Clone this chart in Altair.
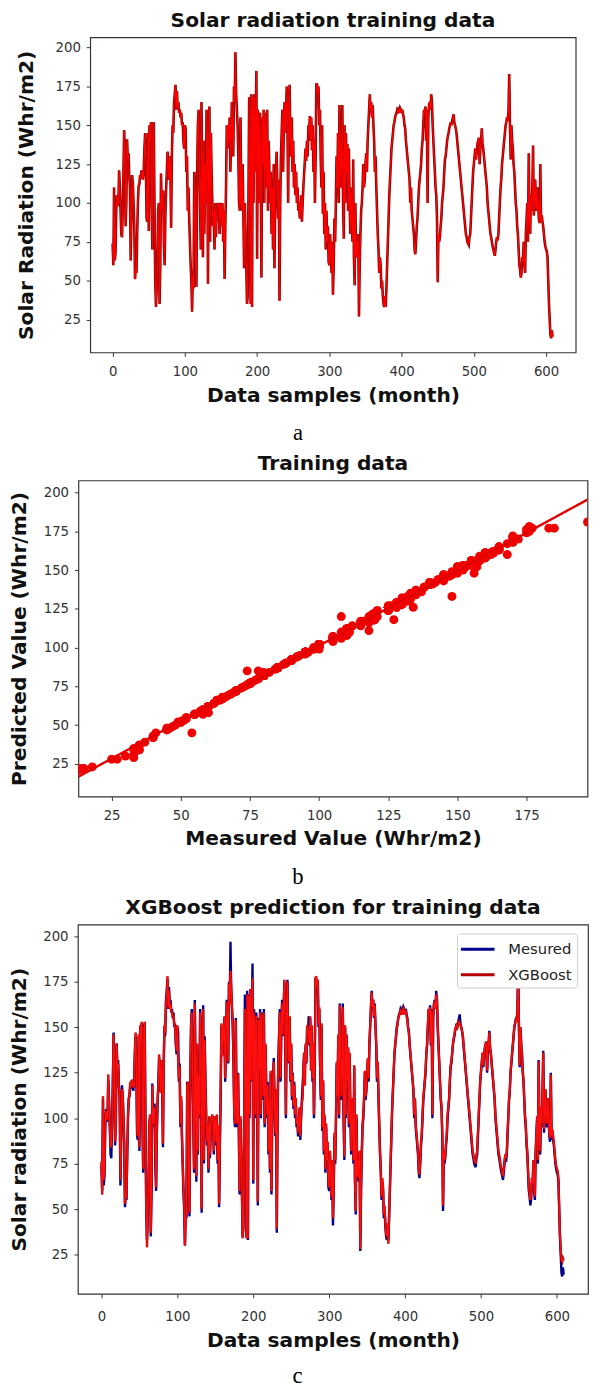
import altair as alt
import pandas as pd

# ---------------- data ----------------
measured = [
    74, 60, 110, 63, 68, 95, 105, 98, 100, 121,
    110, 95, 80, 78, 95, 120, 147, 130, 85, 100,
    141, 128, 132, 118, 110, 63, 90, 118, 112, 100,
    85, 51, 58, 55, 80, 100, 111, 112, 118, 116,
    121, 119, 115, 120, 135, 145, 128, 90, 88, 145,
    82, 150, 140, 152, 100, 70, 150, 152, 95, 50,
    33, 45, 60, 95, 100, 35, 60, 119, 95, 105,
    108, 74, 60, 92, 108, 120, 133, 125, 115, 130,
    120, 84, 130, 150, 145, 165, 170, 176, 160, 172,
    162, 165, 158, 160, 155, 158, 150, 152, 140, 135,
    150, 148, 120, 130, 95, 110, 90, 75, 60, 50,
    30, 54, 45, 120, 108, 60, 46, 120, 150, 160,
    130, 100, 70, 165, 120, 65, 140, 80, 125, 100,
    160, 140, 48, 130, 162, 75, 145, 120, 100, 85,
    95, 70, 100, 78, 95, 98, 100, 96, 80, 100,
    98, 85, 100, 75, 95, 51, 85, 110, 150, 135,
    150, 140, 155, 120, 140, 165, 150, 130, 175, 165,
    197, 170, 160, 150, 130, 100, 95, 155, 100, 95,
    125, 92, 58, 100, 80, 60, 35, 40, 100, 168,
    125, 35, 170, 33, 168, 100, 170, 120, 150, 185,
    64, 160, 150, 100, 158, 120, 52, 155, 125, 160,
    100, 158, 130, 110, 160, 95, 140, 120, 100, 120,
    80, 110, 70, 125, 58, 100, 120, 133, 110, 90,
    115, 37, 100, 130, 145, 160, 120, 150, 165, 145,
    160, 175, 150, 100, 160, 176, 140, 130, 155, 120,
    140, 110, 125, 105, 120, 100, 110, 95, 100, 90,
    95, 105, 88, 100, 110, 118, 126, 135, 127, 140,
    130, 150, 145, 156, 140, 155, 134, 150, 120, 140,
    100, 130, 177, 176, 170, 175, 150, 160, 130, 110,
    150, 93, 120, 80, 100, 70, 95, 75, 85, 62,
    60, 80, 70, 55, 75, 41, 60, 90, 75, 100,
    130, 110, 145, 100, 163, 140, 110, 125, 163, 100,
    77, 150, 100, 145, 120, 138, 95, 135, 100, 80,
    110, 90, 75, 128, 65, 47, 100, 66, 75, 65,
    80, 27, 60, 80, 95, 100, 110, 125, 110, 115,
    125, 132, 120, 140, 150, 160, 170, 160, 165, 155,
    163, 150, 140, 120, 130, 110, 95, 80, 70, 55,
    65, 60, 45, 50, 40, 35, 33, 40, 33, 45,
    60, 75, 90, 105, 115, 125, 135, 140, 145, 150,
    152, 155, 157, 158, 160, 159, 160, 158, 161, 160,
    158, 160, 157, 155, 150, 148, 140, 135, 130, 125,
    120, 115, 100, 110, 95, 90, 85, 80, 70, 67,
    75, 85, 90, 100, 110, 115, 120, 125, 135, 140,
    150, 160, 158, 162, 140, 160, 100, 155, 163, 165,
    160, 170, 165, 150, 140, 130, 120, 110, 105, 90,
    49, 80, 75, 78, 85, 90, 100, 105, 110, 120,
    128, 130, 135, 140, 143, 145, 148, 150, 152, 150,
    153, 155, 157, 152, 150, 148, 145, 140, 135, 130,
    125, 120, 115, 110, 105, 100, 95, 90, 85, 80,
    78, 75, 74, 73, 78, 80, 90, 100, 110, 120,
    125, 130, 135, 128, 133, 138, 140, 142, 125, 135,
    140, 148, 138, 135, 130, 125, 120, 115, 110, 100,
    95, 90, 85, 80, 78, 75, 72, 70, 68, 66,
    70, 75, 78, 76, 80, 90, 100, 110, 115, 125,
    130, 135, 140, 145, 150, 152, 155, 153, 160, 183,
    150, 128, 150, 140, 135, 125, 120, 110, 100, 95,
    85, 80, 70, 60, 57, 52, 55, 65, 62, 75,
    60, 55, 80, 90, 100, 75, 132, 90, 80, 105,
    95, 110, 137, 92, 100, 115, 98, 95, 110, 100,
    90, 87, 125, 88, 92, 88, 85, 80, 75, 72,
    70, 69, 65, 50, 35, 25, 15, 13, 18, 14,
]

predicted = [
    76, 58, 112, 66, 70, 97, 104, 100, 99, 124,
    108, 97, 84, 85, 96, 118, 146, 132, 87, 101,
    141, 126, 130, 117, 112, 66, 92, 116, 114, 101,
    87, 53, 57, 57, 82, 102, 110, 114, 120, 117,
    120, 121, 117, 118, 137, 147, 126, 92, 90, 146,
    84, 151, 142, 153, 102, 72, 148, 153, 97, 52,
    29, 48, 62, 96, 102, 37, 62, 118, 97, 104,
    106, 85, 62, 94, 110, 118, 135, 127, 114, 132,
    122, 86, 128, 151, 147, 163, 168, 178, 161, 170,
    160, 163, 159, 158, 156, 156, 151, 150, 142, 137,
    151, 133, 122, 128, 97, 112, 92, 77, 62, 52,
    30, 45, 47, 118, 120, 62, 48, 121, 149, 158,
    128, 102, 72, 163, 118, 68, 141, 82, 124, 102,
    158, 141, 50, 128, 160, 77, 143, 118, 102, 87,
    96, 72, 101, 80, 97, 99, 102, 97, 82, 101,
    99, 87, 102, 77, 96, 53, 87, 112, 152, 134,
    151, 142, 156, 122, 141, 164, 152, 131, 174, 163,
    181, 171, 161, 152, 131, 102, 97, 154, 102, 97,
    124, 94, 60, 101, 82, 62, 34, 42, 102, 160,
    126, 34, 168, 34, 167, 102, 171, 121, 151, 177,
    66, 158, 151, 102, 156, 122, 54, 154, 126, 158,
    102, 157, 131, 112, 158, 97, 141, 121, 102, 118,
    82, 111, 72, 126, 60, 102, 121, 131, 108, 92,
    116, 39, 102, 131, 146, 158, 122, 151, 163, 146,
    159, 176, 151, 102, 158, 175, 141, 131, 156, 121,
    141, 112, 124, 107, 118, 102, 111, 97, 101, 92,
    97, 106, 90, 102, 108, 111, 127, 136, 118, 141,
    131, 151, 146, 148, 141, 156, 126, 151, 122, 141,
    102, 131, 177, 178, 172, 176, 152, 161, 131, 112,
    152, 95, 121, 82, 102, 72, 97, 77, 87, 64,
    62, 82, 72, 57, 77, 45, 62, 92, 77, 101,
    131, 112, 146, 102, 162, 141, 112, 126, 161, 102,
    79, 151, 102, 146, 121, 139, 97, 136, 102, 82,
    111, 92, 77, 129, 67, 49, 102, 68, 77, 67,
    82, 28, 62, 82, 97, 102, 112, 126, 112, 116,
    126, 133, 122, 141, 151, 161, 169, 161, 165, 156,
    162, 151, 141, 122, 131, 112, 97, 82, 72, 57,
    67, 62, 47, 52, 43, 37, 35, 42, 31, 48,
    62, 77, 92, 106, 116, 126, 136, 141, 144, 149,
    151, 155, 156, 158, 159, 158, 159, 157, 160, 159,
    157, 159, 156, 154, 149, 147, 141, 136, 131, 126,
    121, 116, 102, 111, 97, 92, 87, 82, 72, 69,
    77, 87, 92, 102, 111, 116, 121, 126, 136, 141,
    151, 160, 158, 161, 141, 159, 102, 155, 162, 164,
    160, 168, 165, 151, 141, 131, 121, 111, 107, 92,
    52, 82, 77, 80, 87, 92, 102, 107, 111, 121,
    129, 131, 136, 141, 144, 146, 149, 150, 151, 150,
    152, 153, 152, 151, 150, 148, 146, 141, 136, 131,
    126, 121, 116, 111, 107, 102, 97, 92, 87, 82,
    80, 77, 76, 75, 80, 82, 92, 102, 111, 121,
    126, 131, 136, 129, 134, 139, 141, 142, 126, 136,
    141, 147, 139, 136, 131, 126, 121, 116, 111, 102,
    97, 92, 87, 82, 80, 77, 74, 72, 70, 68,
    72, 77, 80, 78, 82, 92, 102, 111, 116, 126,
    131, 136, 141, 146, 151, 152, 154, 153, 159, 177,
    151, 129, 150, 141, 136, 126, 121, 111, 102, 97,
    87, 82, 72, 62, 59, 55, 57, 67, 64, 77,
    62, 57, 82, 92, 101, 77, 131, 92, 82, 106,
    97, 111, 136, 94, 101, 116, 99, 97, 111, 102,
    92, 89, 124, 90, 94, 90, 87, 82, 77, 74,
    72, 71, 67, 52, 37, 28, 22, 21, 23, 22,
]

sample_ticks = [0, 100, 200, 300, 400, 500, 600]
value_ticks = [25, 50, 75, 100, 125, 150, 175, 200]
measured_ticks = [25, 50, 75, 100, 125, 150, 175]
series_names = ["Mesured", "XGBoost"]
captions = ["a", "b", "c"]
titles = ["Solar radiation training data", "Training data",
          "XGBoost prediction for training data"]

n = len(measured)
df = pd.DataFrame({"sample": list(range(n)), "measured": measured,
                   "predicted": predicted})
long_df = pd.concat([
    pd.DataFrame({"sample": list(range(n)), "value": measured,
                  "series": series_names[0]}),
    pd.DataFrame({"sample": list(range(n)), "value": predicted,
                  "series": series_names[1]}),
])

FONT = "DejaVu Sans"
BIG = 20.5


def x_axis(title, values, lpad, tpad):
    return alt.Axis(title=title, values=values, grid=False, domain=False,
                    tickSize=4, tickColor="#333", tickWidth=1,
                    labelFont=FONT, labelFontSize=13.5, labelColor="#333",
                    labelPadding=lpad, labelFlush=False, labelOverlap=False,
                    titleFont=FONT, titleFontSize=BIG, titleFontWeight="bold",
                    titleColor="#111", titlePadding=tpad)


def y_axis(title, values, tpad):
    return alt.Axis(title=title, values=values, grid=False, domain=False,
                    tickSize=4, tickColor="#333", tickWidth=1,
                    labelFont=FONT, labelFontSize=13.5, labelColor="#333",
                    labelPadding=6, labelOverlap=False,
                    titleFont=FONT, titleFontSize=BIG, titleFontWeight="bold",
                    titleColor="#111", titlePadding=tpad)


def panel_title(text):
    return alt.TitleParams(text, font=FONT, fontSize=BIG, fontWeight="bold",
                           color="#111", anchor="middle", frame="group",
                           baseline="alphabetic", offset=-10)


def caption(letter, x, y):
    return alt.Chart(pd.DataFrame({"t": [letter]})).mark_text(
        font="Liberation Serif", fontSize=23, color="#000",
        baseline="alphabetic", align="center"
    ).encode(text="t:N", x=alt.value(x), y=alt.value(y))


# ---------------- panel a ----------------
xa = alt.X("sample:Q", scale=alt.Scale(domain=[-31, 641], nice=False, zero=False),
           axis=x_axis("Data samples (month)", sample_ticks, 8, 8))
ya = alt.Y("measured:Q", scale=alt.Scale(domain=[3.8, 206.6], nice=False, zero=False),
           axis=y_axis("Solar Radiation (Whr/m2)", value_ticks, 19))
a_dark = alt.Chart(df).mark_line(color="#7a0000", strokeWidth=2.6).encode(x=xa, y=ya)
a_red = alt.Chart(df).mark_line(color="#ff0000", strokeWidth=1.3).encode(
    x="sample:Q", y="measured:Q")
panel_a = alt.layer(a_dark, a_red, caption(captions[0], 211, 409)).properties(
    width=493, height=320, title=panel_title(titles[0]))

# ---------------- panel b ----------------
xb = alt.X("measured:Q", scale=alt.Scale(domain=[13, 197], nice=False, zero=False),
           axis=x_axis("Measured Value (Whr/m2)", measured_ticks, 8, 7))
yb = alt.Y("predicted:Q", scale=alt.Scale(domain=[3.9, 207.8], nice=False, zero=False),
           axis=y_axis("Predicted Value (Whr/m2)", value_ticks, 14))
b_pts = alt.Chart(df).mark_circle(size=82, color="#f00000", opacity=1,
                                  clip=True).encode(x=xb, y=yb)
b_reg = alt.Chart(df).transform_regression(
    "measured", "predicted", extent=[13, 197]
).mark_line(color="#e00000", strokeWidth=2.4, clip=True).encode(
    x="measured:Q", y="predicted:Q")
panel_b = alt.layer(b_pts, b_reg, caption(captions[1], 223, 410)).properties(
    width=517, height=321, title=panel_title(titles[1]))

# ---------------- panel c ----------------
xc = alt.X("sample:Q", scale=alt.Scale(domain=[-31, 641], nice=False, zero=False),
           axis=x_axis("Data samples (month)", sample_ticks, 12, 8))
yc = alt.Y("value:Q", scale=alt.Scale(domain=[3.4, 206.4], nice=False, zero=False),
           axis=y_axis("Solar radiation (Whr/m2)", value_ticks, 13))
c_lines = alt.Chart(long_df).mark_line(strokeWidth=2.4).encode(
    x=xc, y=yc,
    color=alt.Color("series:N",
                    scale=alt.Scale(domain=series_names,
                                    range=["#00008b", "#b80000"]),
                    legend=alt.Legend(title=None, orient="none",
                                      legendX=385, legendY=9,
                                      symbolType="M-1.8,0L1.8,0",
                                      symbolStrokeWidth=3, symbolSize=360,
                                      symbolOffset=5, labelFont=FONT,
                                      labelFontSize=15, labelColor="#222",
                                      labelOffset=20, rowPadding=7,
                                      padding=5, fillColor="white",
                                      strokeColor="#cccccc", cornerRadius=3)),
    order=alt.Order("series:N"))
c_red = alt.Chart(df).mark_line(color="#ff1010", strokeWidth=1.2).encode(
    x="sample:Q", y=alt.Y("predicted:Q"))
panel_c = alt.layer(c_lines, c_red, caption(captions[2], 223, 466)).properties(
    width=518, height=375, title=panel_title(titles[2])
).resolve_legend(color="independent")

chart = alt.vconcat(panel_a, panel_b, panel_c, spacing=130, center=True,
                    bounds="flush").resolve_scale(
    color="independent").resolve_legend(color="independent").properties(
    padding={"left": 1, "top": -9, "right": 0, "bottom": 0}
).configure_view(stroke="#333", strokeWidth=1.2)

chart.save("out.html", embed_options={"renderer": "svg", "actions": False})
